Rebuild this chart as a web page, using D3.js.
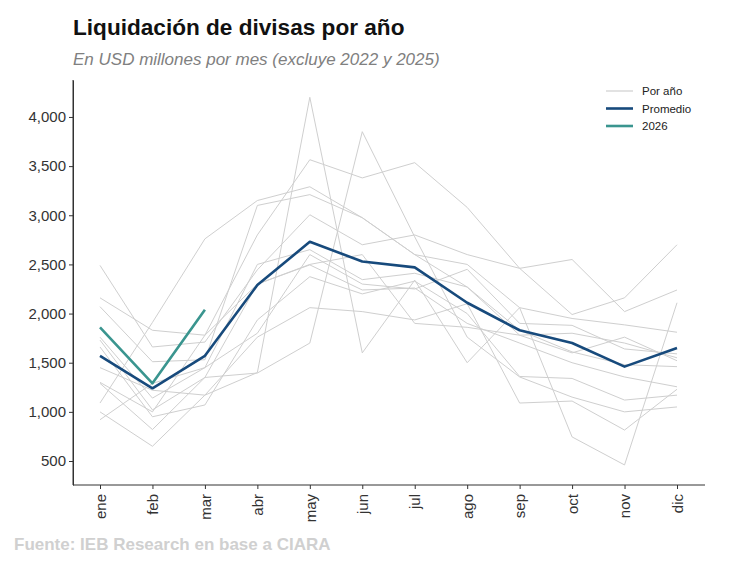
<!DOCTYPE html>
<html><head><meta charset="utf-8">
<script src="https://cdn.jsdelivr.net/npm/d3@7"></script>
<style>body{margin:0;background:#fff}svg{display:block}text{font-family:"Liberation Sans",Arial,sans-serif}</style>
</head><body><svg id="c" width="745" height="565"></svg>
<script>
const months = ["ene","feb","mar","abr","may","jun","jul","ago","sep","oct","nov","dic"];
const yTicks = [500,1000,1500,2000,2500,3000,3500,4000];
// individual years (gray)
const y01 = [1090,1910,2760,3150,3290,2975,2600,2270,1780,1800,1700,1550];
const y02 = [1450,1220,1170,1400,4200,1600,2340,1500,2060,745,460,2110];
const y03 = [2160,1830,1780,2800,3565,3380,3535,3080,2460,2550,2020,2240];
const y04 = [2490,1660,1710,2445,3005,2700,2800,2600,2460,1990,2160,2700];
const y05 = [2070,1510,1530,3100,3210,2975,2600,2500,2060,1950,1885,1810];
const y06 = [1760,1140,1450,2500,2650,2345,2410,2270,1830,1610,1480,1460];
const y07 = [1730,1020,1350,2300,2495,2240,2260,1900,1700,1500,1355,1255];
const y08 = [1660,950,1070,1935,2375,2200,2330,2000,1360,1340,1120,1170];
const y09 = [1290,820,1350,1395,1700,3850,2780,1760,1355,1150,1000,1050];
const y10 = [1000,650,1170,1760,2060,2020,1935,2100,1090,1110,815,1230];
const y11 = [920,1290,1450,1800,2600,2300,2250,2450,1900,1880,1640,1590];
const y12 = [1300,1000,1780,2300,2500,2600,1900,1860,1780,1600,1760,1520];
const years = [y01,y02,y03,y04,y05,y06,y07,y08,y09,y10,y11,y12];
const promedio = [1570,1240,1570,2290,2730,2530,2470,2110,1830,1700,1460,1650];
const y2026 = [1860,1290,2040];

const svg = d3.select("#c");
const x = d3.scalePoint().domain(months).range([100,677]);
const y = d3.scaleLinear().domain([256,4376]).range([485,80]);
const line = d3.line().x((d,i)=>x(months[i])).y(d=>y(d));

svg.append("text").attr("x",73).attr("y",35).attr("font-size",22.6).attr("font-weight","bold").attr("fill","#111").text("Liquidación de divisas por año");
svg.append("text").attr("x",73).attr("y",65).attr("font-size",17).attr("font-style","italic").attr("fill","#808080").text("En USD millones por mes (excluye 2022 y 2025)");

const g = svg.append("g");
years.forEach(s=>g.append("path").attr("d",line(s)).attr("fill","none").attr("stroke","#cfcfcf").attr("stroke-width",1));
g.append("path").attr("d",line(promedio)).attr("fill","none").attr("stroke","#174a7c").attr("stroke-width",2.6).attr("stroke-linejoin","round");
g.append("path").attr("d",line(y2026)).attr("fill","none").attr("stroke","#3a958f").attr("stroke-width",2.6).attr("stroke-linejoin","round");

const ya = svg.append("g").attr("transform","translate(73,0)").call(d3.axisLeft(y).tickValues(yTicks).tickFormat(d3.format(",")).tickSize(4).tickSizeOuter(0));
ya.select(".domain").attr("stroke","#333");
ya.selectAll(".tick line").attr("stroke","#333");
ya.selectAll("text").attr("font-size",15).attr("fill","#333").attr("font-family","Liberation Sans, Arial, sans-serif");
svg.append("line").attr("x1",73).attr("x2",73).attr("y1",80).attr("y2",485).attr("stroke","#333");

const xa = svg.append("g").attr("transform","translate(0,485)").call(d3.axisBottom(x).tickSize(4).tickSizeOuter(0));
xa.select(".domain").attr("d","M73,0H705").attr("stroke","#333");
xa.selectAll(".tick line").attr("stroke","#333");
xa.selectAll("text").attr("font-size",15).attr("fill","#333").attr("font-family","Liberation Sans, Arial, sans-serif")
  .attr("transform","rotate(-90)").attr("text-anchor","end").attr("x",-9).attr("y",0).attr("dy","0.35em");

const leg = [["Por año","#d8d8d8",1.5],["Promedio","#174a7c",2.6],["2026","#3a958f",2.6]];
leg.forEach((l,i)=>{
  const yy = 91 + i*17.5;
  svg.append("line").attr("x1",606).attr("x2",633).attr("y1",yy).attr("y2",yy).attr("stroke",l[1]).attr("stroke-width",l[2]);
  svg.append("text").attr("x",642).attr("y",yy+4).attr("font-size",11.5).attr("fill","#222").text(l[0]);
});

svg.append("text").attr("x",14).attr("y",550).attr("font-size",17).attr("font-weight","bold").attr("fill","#d0d0d0").text("Fuente: IEB Research en base a CIARA");
</script></body></html>
